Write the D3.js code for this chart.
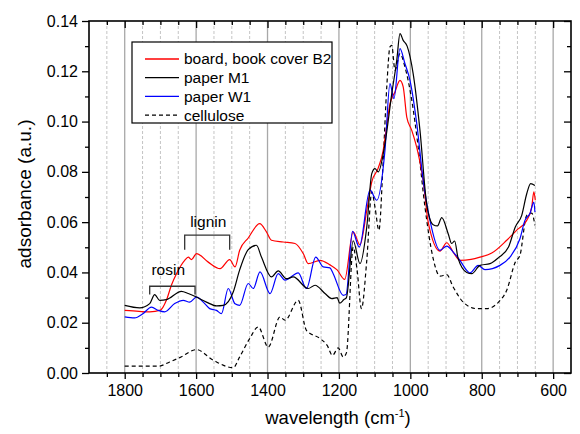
<!DOCTYPE html>
<html>
<head>
<meta charset="utf-8">
<script src="https://cdn.jsdelivr.net/npm/d3@7/dist/d3.min.js"></script>
<style>
  body { margin: 0; background: #fff; }
  text { font-family: Arial, "Liberation Sans", sans-serif; }
</style>
</head>
<body>
<div id="chart"></div>
<script>
// tick labels
var xMajorTicks = [1800, 1600, 1400, 1200, 1000, 800, 600];
var xMinorTicks = [1850, 1750, 1700, 1650, 1550, 1500, 1450, 1350, 1300, 1250, 1150, 1100, 1050, 950, 900, 850, 750, 700, 650];
var yMajorTicks = [0, 0.02, 0.04, 0.06, 0.08, 0.10, 0.12, 0.14];
var yMinorTicks = [0.01, 0.03, 0.05, 0.07, 0.09, 0.11, 0.13];

// series: wavenumber / absorbance
var boardWn  = [1800, 1760, 1730, 1700, 1683, 1669, 1655, 1632, 1622, 1613, 1599, 1566, 1533, 1506, 1491, 1478, 1454, 1422, 1403, 1389, 1356, 1323, 1300, 1286, 1253, 1225, 1205, 1184, 1160, 1141, 1122, 1108, 1090, 1076, 1068, 1057, 1043, 1029, 1020, 1010, 996, 978, 964, 950, 917, 898, 880, 861, 830, 805, 772, 730, 702, 674, 660, 654, 650];
var boardAbs = [0.0249, 0.0245, 0.0243, 0.0250, 0.0290, 0.0350, 0.0395, 0.0448, 0.0461, 0.0451, 0.0475, 0.0441, 0.0415, 0.0451, 0.0422, 0.0488, 0.0537, 0.0594, 0.0561, 0.0528, 0.0521, 0.0515, 0.0475, 0.0435, 0.0448, 0.0430, 0.0410, 0.0372, 0.0561, 0.0510, 0.0647, 0.0760, 0.0815, 0.0886, 0.0965, 0.1070, 0.1118, 0.1164, 0.1138, 0.1018, 0.0965, 0.0873, 0.0766, 0.0600, 0.0485, 0.0518, 0.0481, 0.0448, 0.0452, 0.0461, 0.0477, 0.0528, 0.0568, 0.0607, 0.0660, 0.0720, 0.0687];

var paperMWn  = [1800, 1758, 1730, 1716, 1702, 1683, 1641, 1622, 1599, 1571, 1543, 1524, 1496, 1478, 1454, 1431, 1417, 1389, 1370, 1347, 1328, 1286, 1267, 1239, 1220, 1205, 1198, 1186, 1179, 1160, 1141, 1122, 1108, 1099, 1090, 1071, 1052, 1038, 1029, 1020, 1009, 992, 973, 954, 936, 924, 912, 894, 884, 876, 866, 842, 828, 805, 777, 753, 725, 706, 688, 674, 663, 651];
var paperMAbs = [0.0269, 0.0259, 0.0276, 0.0312, 0.0289, 0.0292, 0.0325, 0.0316, 0.0302, 0.0282, 0.0267, 0.0269, 0.0322, 0.0410, 0.0491, 0.0508, 0.0461, 0.0382, 0.0406, 0.0375, 0.0382, 0.0336, 0.0349, 0.0316, 0.0296, 0.0300, 0.0278, 0.0292, 0.0300, 0.0526, 0.0435, 0.0581, 0.0793, 0.0813, 0.0800, 0.0912, 0.1111, 0.1244, 0.1350, 0.1323, 0.1300, 0.1190, 0.0965, 0.0670, 0.0590, 0.0585, 0.0618, 0.0554, 0.0515, 0.0525, 0.0455, 0.0400, 0.0395, 0.0428, 0.0435, 0.0459, 0.0501, 0.0581, 0.0627, 0.0713, 0.0753, 0.0746];

var paperWWn  = [1800, 1772, 1749, 1725, 1706, 1688, 1660, 1636, 1618, 1599, 1576, 1562, 1543, 1529, 1510, 1491, 1478, 1454, 1440, 1421, 1393, 1370, 1351, 1314, 1291, 1265, 1244, 1225, 1216, 1188, 1180, 1162, 1143, 1113, 1094, 1071, 1057, 1046, 1029, 1015, 1001, 982, 964, 945, 917, 898, 880, 861, 842, 833, 810, 791, 749, 721, 693, 679, 665, 654, 651];
var paperWAbs = [0.0223, 0.0219, 0.0236, 0.0262, 0.0249, 0.0243, 0.0276, 0.0289, 0.0282, 0.0302, 0.0276, 0.0256, 0.0249, 0.0236, 0.0336, 0.0275, 0.0269, 0.0356, 0.0336, 0.0402, 0.0316, 0.0395, 0.0369, 0.0398, 0.0336, 0.0461, 0.0422, 0.0418, 0.0395, 0.0309, 0.0312, 0.0563, 0.0501, 0.0727, 0.0687, 0.0886, 0.1151, 0.1091, 0.1290, 0.1230, 0.1164, 0.0992, 0.0766, 0.0607, 0.0488, 0.0505, 0.0481, 0.0448, 0.0408, 0.0398, 0.0428, 0.0411, 0.0428, 0.0461, 0.0534, 0.0607, 0.0634, 0.0680, 0.0640];

var celluloseWn  = [1800, 1706, 1674, 1646, 1599, 1552, 1496, 1478, 1450, 1426, 1398, 1365, 1351, 1314, 1291, 1253, 1233, 1218, 1202, 1188, 1179, 1160, 1149, 1137, 1122, 1108, 1099, 1088, 1076, 1066, 1057, 1052, 1043, 1029, 1015, 996, 978, 959, 936, 917, 898, 880, 852, 814, 786, 753, 730, 706, 693, 674, 660, 651];
var celluloseAbs = [0.0027, 0.0027, 0.0044, 0.0061, 0.0093, 0.0051, 0.0021, 0.0064, 0.0137, 0.0183, 0.0103, 0.0223, 0.0210, 0.0289, 0.0170, 0.0137, 0.0110, 0.0070, 0.0100, 0.0064, 0.0080, 0.0501, 0.0408, 0.0256, 0.0448, 0.0720, 0.0660, 0.0568, 0.0846, 0.1138, 0.1297, 0.1303, 0.1204, 0.1270, 0.1217, 0.1085, 0.0899, 0.0660, 0.0455, 0.0385, 0.0391, 0.0342, 0.0282, 0.0256, 0.0256, 0.0282, 0.0329, 0.0441, 0.0468, 0.0627, 0.0636, 0.0587];

var seriesNames = ["board, book cover B2", "paper M1", "paper W1", "cellulose"];

// bracket annotations: [from, to, level, foot, label, labelX, labelY]
var rosinBracket  = [1730, 1603, 0.0345, 0.0312];
var ligninBracket = [1632, 1506, 0.0548, 0.0490];

var width = 580, height = 434;
var margin = {top: 21, right: 9, bottom: 61, left: 89};
var iw = width - margin.left - margin.right,
    ih = height - margin.top - margin.bottom;

var x = d3.scaleLinear().domain([1900, 550]).range([0, iw]);
var y = d3.scaleLinear().domain([0, 0.14]).range([ih, 0]);

var svg = d3.select("#chart").append("svg")
    .attr("width", width)
    .attr("height", height);

var g = svg.append("g")
    .attr("transform", "translate(" + margin.left + "," + margin.top + ")");

// vertical grid
g.selectAll(".gminor").data(xMinorTicks).enter().append("line")
    .attr("x1", function (d) { return x(d); })
    .attr("x2", function (d) { return x(d); })
    .attr("y1", 0).attr("y2", ih)
    .attr("stroke", "#c4c4c4")
    .attr("stroke-width", 1)
    .attr("stroke-dasharray", "3,2");

g.selectAll(".gmajor").data(xMajorTicks).enter().append("line")
    .attr("x1", function (d) { return x(d); })
    .attr("x2", function (d) { return x(d); })
    .attr("y1", 0).attr("y2", ih)
    .attr("stroke", "#a8a8a8")
    .attr("stroke-width", 1.3);

// series
function pts(wn, ab) {
    return wn.map(function (w, i) { return [w, ab[i]]; });
}
var series = [
    {name: seriesNames[0], data: pts(boardWn, boardAbs), color: "#ff0000", dash: null},
    {name: seriesNames[1], data: pts(paperMWn, paperMAbs), color: "#000000", dash: null},
    {name: seriesNames[2], data: pts(paperWWn, paperWAbs), color: "#0000ff", dash: null},
    {name: seriesNames[3], data: pts(celluloseWn, celluloseAbs), color: "#000000", dash: "4,3"}
];

var line = d3.line()
    .x(function (d) { return x(d[0]); })
    .y(function (d) { return y(d[1]); })
    .curve(d3.curveMonotoneX);

// draw cellulose first, then others on top
[3, 0, 2, 1].forEach(function (i) {
    var s = series[i];
    g.append("path")
        .attr("d", line(s.data))
        .attr("fill", "none")
        .attr("stroke", s.color)
        .attr("stroke-width", 1.2)
        .attr("stroke-dasharray", s.dash);
});

// brackets
function bracket(b, label, lx, ly) {
    var p = d3.path();
    p.moveTo(x(b[0]), y(b[3]));
    p.lineTo(x(b[0]), y(b[2]));
    p.lineTo(x(b[1]), y(b[2]));
    p.lineTo(x(b[1]), y(b[3]));
    g.append("path")
        .attr("d", p.toString())
        .attr("fill", "none")
        .attr("stroke", "#333")
        .attr("stroke-width", 1.3);
    g.append("text")
        .attr("x", x(lx)).attr("y", y(ly))
        .attr("text-anchor", "middle")
        .style("font-size", "15.5px")
        .text(label);
}
bracket(rosinBracket, "rosin", 1678, 0.0389);
bracket(ligninBracket, "lignin", 1566, 0.0581);

// axes
var fmt = d3.format(".2f");
var xAxis = d3.axisBottom(x).tickValues(xMajorTicks).tickSize(6).tickPadding(6).tickFormat(d3.format("d"));
var xAxisMinor = d3.axisBottom(x).tickValues(xMinorTicks).tickSize(4).tickFormat("");
var xTop = d3.axisTop(x).tickValues(xMajorTicks).tickSize(-7).tickFormat("");
var xTopMinor = d3.axisTop(x).tickValues(xMinorTicks).tickSize(-4).tickFormat("");
var yAxis = d3.axisLeft(y).tickValues(yMajorTicks).tickSize(7).tickPadding(4).tickFormat(fmt);
var yAxisMinor = d3.axisLeft(y).tickValues(yMinorTicks).tickSize(4).tickFormat("");
var yRight = d3.axisRight(y).tickValues(yMajorTicks).tickSize(-7).tickFormat("");
var yRightMinor = d3.axisRight(y).tickValues(yMinorTicks).tickSize(-4).tickFormat("");

function styleAxis(sel) {
    sel.select(".domain").remove();
    sel.selectAll("line").attr("stroke", "#000").attr("stroke-width", 1.3);
    sel.selectAll("text").style("font-size", "16px").attr("fill", "#000");
}

g.append("g").attr("transform", "translate(0," + ih + ")").call(xAxis).call(styleAxis);
g.append("g").attr("transform", "translate(0," + ih + ")").call(xAxisMinor).call(styleAxis);
g.append("g").call(xTop).call(styleAxis);
g.append("g").call(xTopMinor).call(styleAxis);
g.append("g").call(yAxis).call(styleAxis);
g.append("g").call(yAxisMinor).call(styleAxis);
g.append("g").attr("transform", "translate(" + iw + ",0)").call(yRight).call(styleAxis);
g.append("g").attr("transform", "translate(" + iw + ",0)").call(yRightMinor).call(styleAxis);

// frame
g.append("rect")
    .attr("width", iw).attr("height", ih)
    .attr("fill", "none")
    .attr("stroke", "#000")
    .attr("stroke-width", 1.6);

// axis titles
var xt = svg.append("text")
    .attr("x", margin.left + iw / 2 + 8)
    .attr("y", 424)
    .attr("text-anchor", "middle")
    .style("font-size", "18.5px");
xt.append("tspan").text("wavelength (cm");
xt.append("tspan").attr("dy", -7).style("font-size", "11px").text("-1");
xt.append("tspan").attr("dy", 7).text(")");

svg.append("text")
    .attr("transform", "translate(31," + 194 + ") rotate(-90)")
    .attr("text-anchor", "middle")
    .style("font-size", "19px")
    .text("adsorbance (a.u.)");

// legend
var legend = svg.append("g").attr("transform", "translate(132,42)");
legend.append("rect")
    .attr("width", 200).attr("height", 81)
    .attr("fill", "#fff")
    .attr("stroke", "#000")
    .attr("stroke-width", 1.2);
series.forEach(function (s, i) {
    var row = legend.append("g").attr("transform", "translate(0," + (17 + i * 18.7) + ")");
    row.append("line")
        .attr("x1", 13).attr("x2", 47)
        .attr("stroke", s.color)
        .attr("stroke-width", 1.3)
        .attr("stroke-dasharray", s.dash);
    row.append("text")
        .attr("x", 52).attr("dy", "0.35em")
        .style("font-size", "15.5px")
        .text(s.name);
});
</script>
</body>
</html>
